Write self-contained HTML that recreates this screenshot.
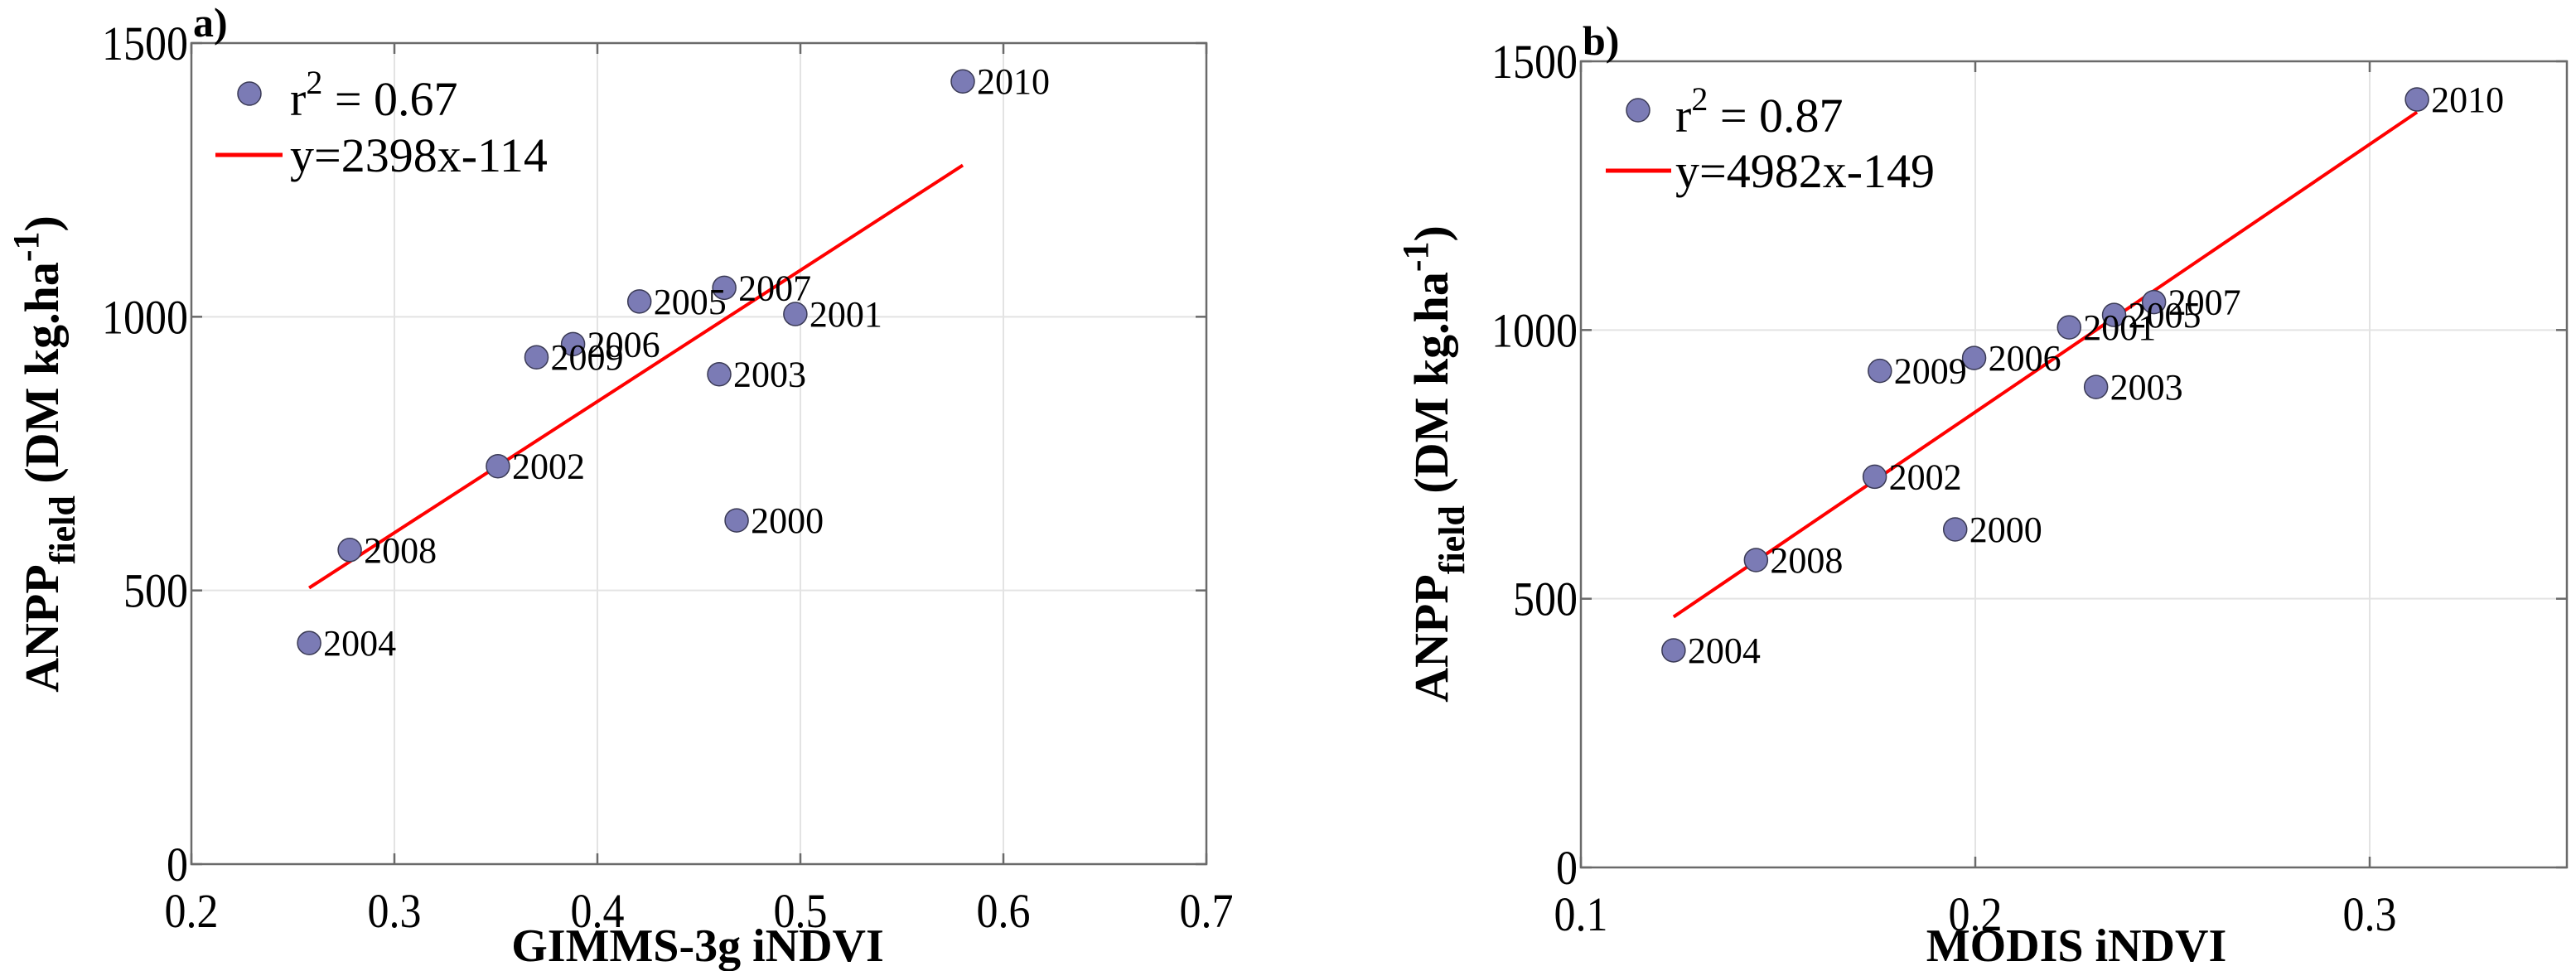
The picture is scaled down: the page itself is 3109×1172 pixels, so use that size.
<!DOCTYPE html>
<html><head><meta charset="utf-8"><style>
html,body{margin:0;padding:0;background:#fff}
svg{display:block}
text{font-family:"Liberation Serif","Times New Roman","DejaVu Serif",serif;fill:#000}
</style></head><body>
<svg id="fig" width="3109" height="1172" viewBox="0 0 3109 1172" xmlns="http://www.w3.org/2000/svg" font-family="'Liberation Serif', 'DejaVu Serif', serif"></svg>
<script>
const yearsA = ['2010','2007','2005','2001','2006','2009','2003','2002','2000','2008','2004'];
const xA = [0.580,0.4625,0.4207,0.4975,0.388,0.370,0.460,0.351,0.4686,0.278,0.258];
const yA = [1430,1053,1028,1005,950,926,895,727,628,574,404];
const yearsB = ['2010','2007','2005','2001','2006','2009','2003','2002','2000','2008','2004'];
const xB = [0.312,0.2453,0.2352,0.2238,0.1997,0.1758,0.2306,0.1745,0.1949,0.1444,0.1235];
const yB = [1429,1052,1028,1005,948,924,894,727,629,572,404];
const fitA = [2398,-114];
const fitB = [4982,-149];
const xTicksA = [0.2,0.3,0.4,0.5,0.6,0.7];
const xTickLabelsA = ['0.2','0.3','0.4','0.5','0.6','0.7'];
const xTicksB = [0.1,0.2,0.3];
const xTickLabelsB = ['0.1','0.2','0.3'];
const yTicks = [0,500,1000,1500];
const yTickLabels = ['0','500','1000','1500'];

const NS='http://www.w3.org/2000/svg';
const svg=document.getElementById('fig');
const FF="'Liberation Serif', 'DejaVu Serif', serif";
function mk(tag,attrs,parent,txt){const e=document.createElementNS(NS,tag);for(const k in attrs)e.setAttribute(k,attrs[k]);if(tag==='text')e.setAttribute('font-family',FF);if(txt!==undefined)e.textContent=txt;(parent||svg).appendChild(e);return e;}

function panel(cfg){
  const g=mk('g',{});
  
  
  const L=cfg.L,R=cfg.R,T=cfg.T,B=cfg.B;
  const sx=v=>L+(v-cfg.xmin)/(cfg.xmax-cfg.xmin)*(R-L);
  const sy=v=>B-(v-0)/(1500-0)*(B-T);
  cfg.xt.forEach((t,i)=>{const x=sx(t);if(x>L+1&&x<R-1){const l=mk('line',{x1:x,y1:T,x2:x,y2:B,stroke:'#e3e3e3','stroke-width':2},g);}});
  yTicks.forEach(t=>{const y=sy(t);if(y>T+1&&y<B-1){const l=mk('line',{x1:L,y1:y,x2:R,y2:y,stroke:'#e3e3e3','stroke-width':2},g);}});
  const box=mk('rect',{x:L,y:T,width:R-L,height:B-T,fill:'none',stroke:'#6a6a6a','stroke-width':2.5},g);
  
  cfg.xt.forEach((t,i)=>{const x=sx(t);
    mk('line',{x1:x,y1:B,x2:x,y2:B-13,stroke:'#6a6a6a','stroke-width':2.5},g);
    mk('line',{x1:x,y1:T,x2:x,y2:T+13,stroke:'#6a6a6a','stroke-width':2.5},g);
    const by=B+76;
    const tx=mk('text',{x:x,y:by,'font-size':52,'text-anchor':'middle',transform:`translate(0,${by}) scale(1,1.12) translate(0,${-by})`},g,cfg.xl[i]);
    
  });
  yTicks.forEach((t,i)=>{const y=sy(t);
    mk('line',{x1:L,y1:y,x2:L+13,y2:y,stroke:'#6a6a6a','stroke-width':2.5},g);
    mk('line',{x1:R,y1:y,x2:R-13,y2:y,stroke:'#6a6a6a','stroke-width':2.5},g);
    const by=y+20;
    const tx=mk('text',{x:L-4,y:by,'font-size':52,'text-anchor':'end',transform:`translate(0,${by}) scale(1,1.12) translate(0,${-by})`},g,yTickLabels[i]);
    
  });
  const xs=cfg.xs, ys=cfg.ys;
  const x0=Math.min(...xs), x1=Math.max(...xs);
  const fl=mk('line',{x1:sx(x0),y1:sy(cfg.fit[0]*x0+cfg.fit[1]),x2:sx(x1),y2:sy(cfg.fit[0]*x1+cfg.fit[1]),stroke:'#ff0000','stroke-width':4},g);
  
  xs.forEach((v,i)=>{
    const cx=sx(v),cy=sy(ys[i]);
    const c=mk('circle',{cx:cx,cy:cy,r:14,fill:'#7b7bb5',stroke:'#3a3a55','stroke-width':1.5},g);
    
    
    const t=mk('text',{x:cx+17,y:cy+15,'font-size':44},g,cfg.years[i]);
    
    
  });
  const lg=mk('g',{},g);
  
  mk('circle',{cx:cfg.leg.mx,cy:cfg.leg.my,r:14,fill:'#7b7bb5',stroke:'#3a3a55','stroke-width':1.5},lg);
  const r2=mk('text',{x:cfg.leg.tx,y:cfg.leg.my+26,'font-size':58},lg);
  
  mk('tspan',{},r2,'r');mk('tspan',{dy:-26,'font-size':40},r2,'2');mk('tspan',{dy:26},r2,' = '+cfg.r2);
  mk('line',{x1:cfg.leg.lx1,y1:cfg.leg.ly,x2:cfg.leg.lx2,y2:cfg.leg.ly,stroke:'#ff0000','stroke-width':5},lg);
  const eq=mk('text',{x:cfg.leg.tx,y:cfg.leg.ly+20,'font-size':58},lg,cfg.eq);
  
  const pl=mk('text',{x:L+2,y:T-8,'font-size':50,'font-weight':'bold'},g,cfg.letter);
  
  const xlb=mk('text',{x:cfg.xlabX,y:1160,'font-size':56,'font-weight':'bold','text-anchor':'middle'},g,cfg.xlabel);
  
  const yl=mk('text',{x:0,y:0,'font-size':58,'font-weight':'bold','text-anchor':'middle',transform:`translate(${cfg.ylabX},${cfg.ylabY}) rotate(-90)`},g);
  
  mk('tspan',{},yl,'ANPP');mk('tspan',{dy:20,'font-size':44},yl,'field');mk('tspan',{dy:-20},yl,' (DM kg.ha');mk('tspan',{dy:-24,'font-size':44},yl,'-1');mk('tspan',{dy:24},yl,')');
}

panel({name:'panel-a',L:231,R:1456,T:52,B:1043,xmin:0.2,xmax:0.7,xt:xTicksA,xl:xTickLabelsA,xs:xA,ys:yA,years:yearsA,fit:fitA,
  leg:{mx:301,my:113,tx:350,lx1:260,lx2:341,ly:187},r2:'0.67',eq:'y=2398x-114',letter:'a)',xlabel:'GIMMS-3g iNDVI',xlabX:842,ylabX:70,ylabY:548});
panel({name:'panel-b',L:1908,R:3098,T:74,B:1047,xmin:0.1,xmax:0.35,xt:xTicksB,xl:xTickLabelsB,xs:xB,ys:yB,years:yearsB,fit:fitB,
  leg:{mx:1977,my:133,tx:2022,lx1:1938,lx2:2017,ly:206},r2:'0.87',eq:'y=4982x-149',letter:'b)',xlabel:'MODIS iNDVI',xlabX:2506,ylabX:1747,ylabY:560});
</script>
</body></html>
